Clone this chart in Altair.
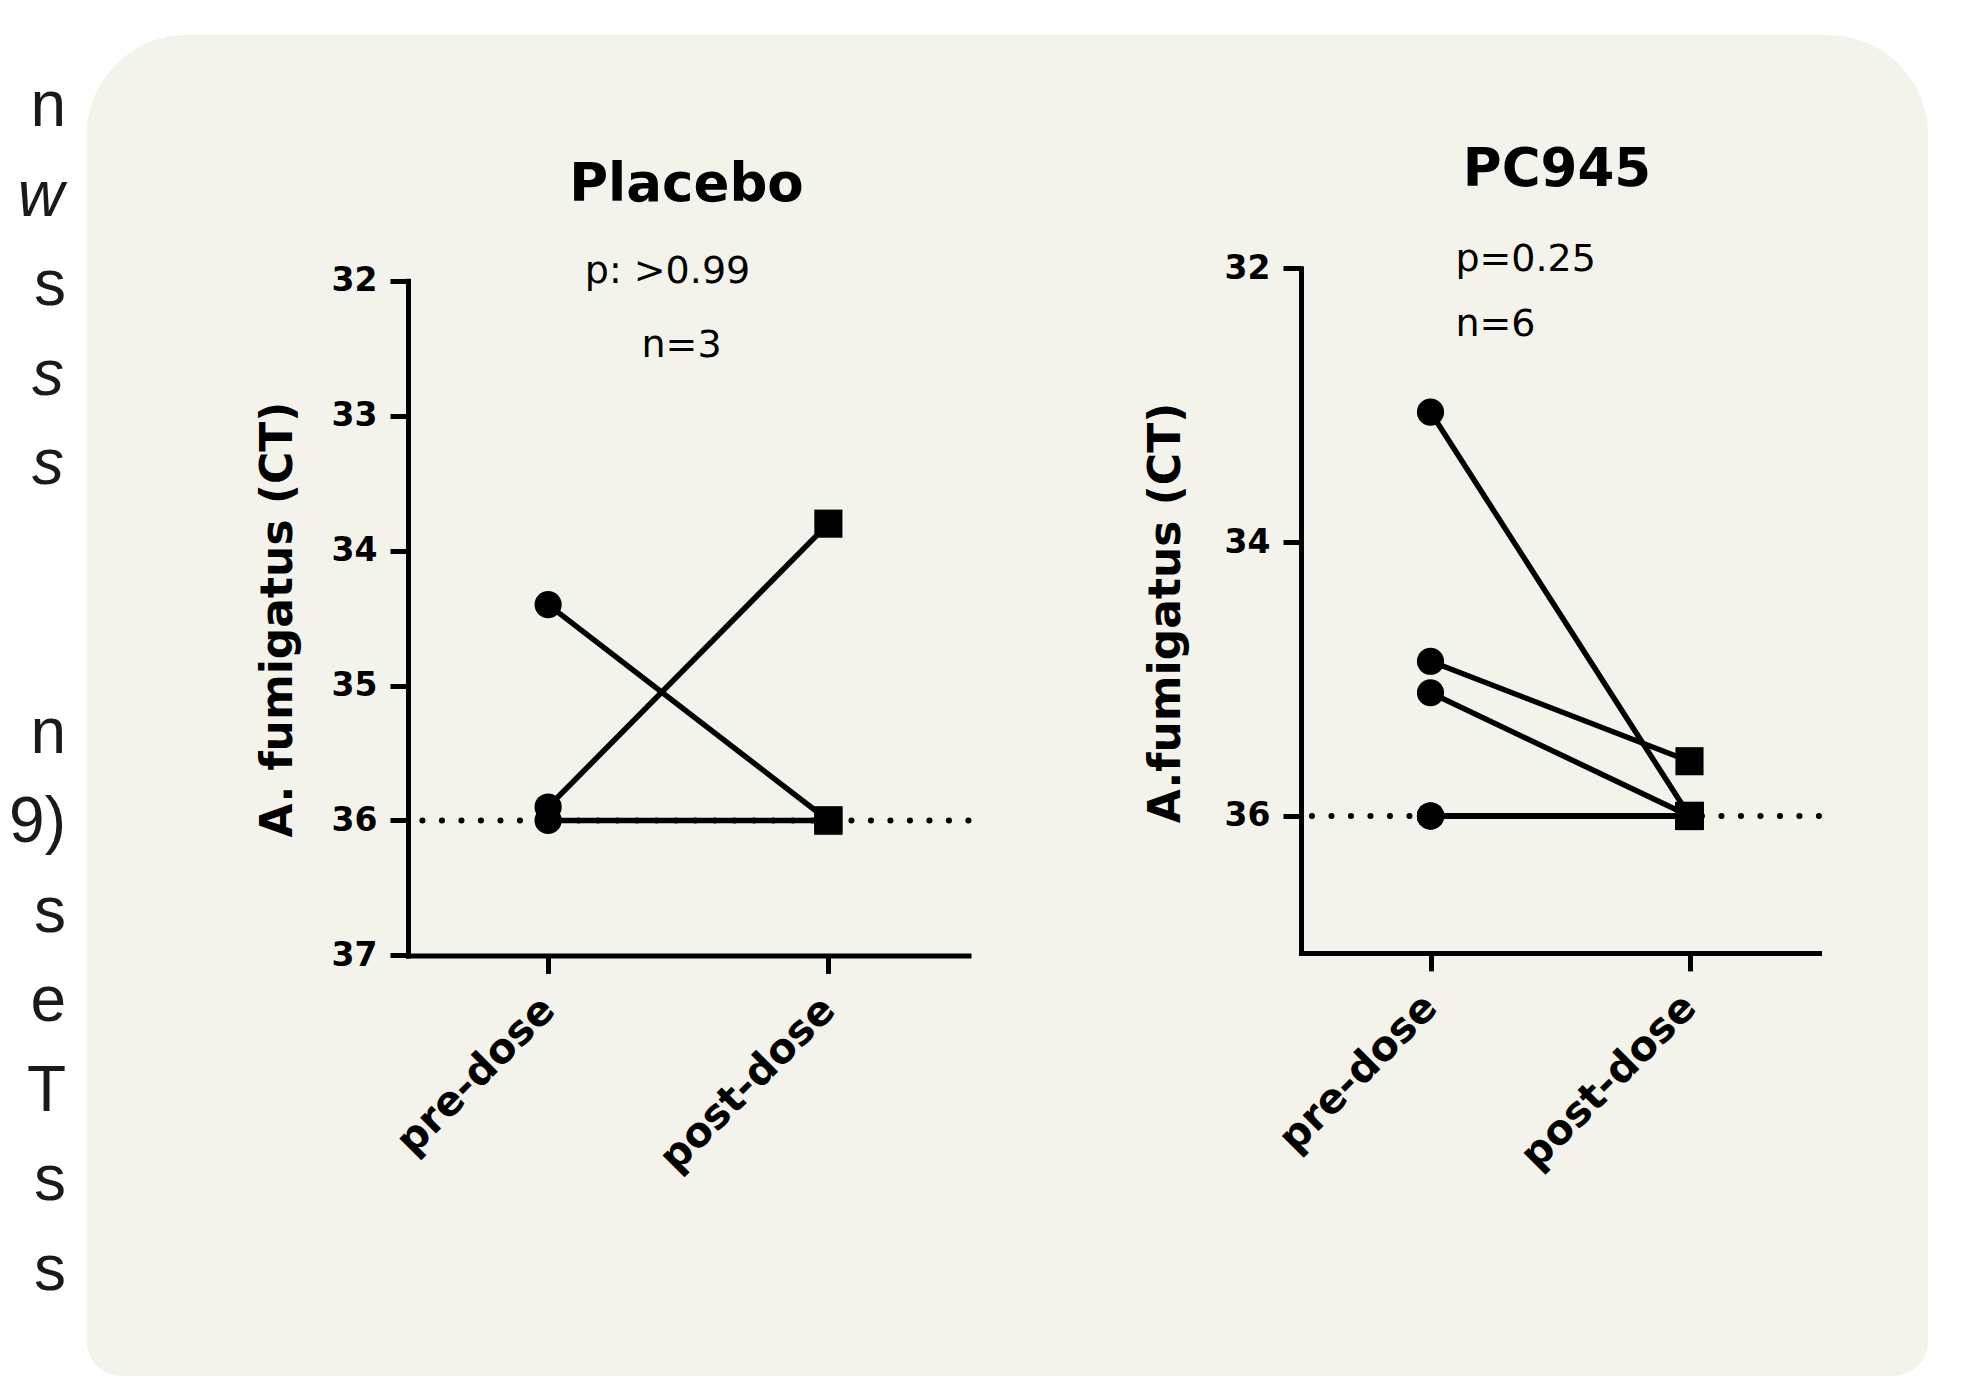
import altair as alt
import pandas as pd

# ---------------- data ----------------
times = ["pre-dose", "post-dose"]

placebo_subject = ["P1", "P2", "P3"]
placebo_pre = [34.4, 35.9, 36.0]
placebo_post = [36.0, 33.8, 36.0]

pc945_subject = ["C1", "C2", "C3", "C4", "C5", "C6"]
pc945_pre = [33.05, 34.87, 35.1, 36.0, 36.0, 36.0]
pc945_post = [36.0, 35.6, 36.0, 36.0, 36.0, 36.0]

lod_value = [36.0]
y_domain = [32, 37]
placebo_yticks = [32, 33, 34, 35, 36, 37]
pc945_yticks = [32, 34, 36]

placebo_texts = ["Placebo", "p: >0.99", "n=3"]
pc945_texts = ["PC945", "p=0.25", "n=6"]

# end-of-line fragments of the page text at the left edge
frag_text = ["n", "w", "s", "s", "s", "n", "9)", "s", "e", "T", "s", "s"]
frag_line = [0, 1, 2, 3, 4, 7, 8, 9, 10, 11, 12, 13]
frag_italic = [False, True, False, True, True, False, False, False, False, False, False, False]

FONT = "DejaVu Sans"
BODYFONT = "Liberation Sans"
BG = "#F3F3EB"


def long_df(subjects, pre, post):
    rows = []
    for s, a, b in zip(subjects, pre, post):
        rows.append({"subject": s, "time": times[0], "ct": a})
        rows.append({"subject": s, "time": times[1], "ct": b})
    return pd.DataFrame(rows)


def text_layer(txt, x, y, align, weight, size):
    return alt.Chart(pd.DataFrame({"t": [txt]})).mark_text(
        align=align, baseline="alphabetic", font=FONT, fontWeight=weight,
        fontSize=size, color="black"
    ).encode(text="t:N", x=alt.value(x), y=alt.value(y))


def panel(df, yrange, yticks, width, height, ytitle, tx, ty, texts):
    xenc = alt.X(
        "time:N", sort=times,
        scale=alt.Scale(type="point", padding=0.5, domain=times),
        axis=alt.Axis(
            title=None, labelAngle=315, labelAlign="right", labelBaseline="middle",
            labelFont=FONT, labelFontWeight="bold", labelFontSize=41,
            labelColor="black", labelPadding=30, labelOverlap=False, labelLimit=0,
            tickSize=18, tickWidth=5, tickColor="black",
            domainWidth=5, domainColor="black", domainCap="square", grid=False,
        ),
    )
    yenc = alt.Y(
        "ct:Q",
        scale=alt.Scale(domain=y_domain, range=yrange, nice=False, zero=False),
        axis=alt.Axis(
            values=yticks, format="d", title=ytitle, titleX=tx, titleY=ty,
            titleAngle=270, titleAlign="center", titleBaseline="middle",
            titleFont=FONT, titleFontWeight="bold", titleFontSize=44,
            titleColor="black", titleLimit=0,
            labelFont=FONT, labelFontWeight="bold", labelFontSize=33,
            labelColor="black", labelPadding=13, labelOverlap=False,
            tickSize=18, tickWidth=5, tickColor="black",
            domainWidth=5, domainColor="black", domainCap="square", grid=False,
        ),
    )
    rule = alt.Chart(pd.DataFrame({"ct": lod_value})).mark_rule(
        color="black", strokeWidth=6, strokeDash=[0.1, 19.4], strokeCap="round"
    ).encode(y=yenc)
    base = alt.Chart(df)
    lines = base.mark_line(color="black", strokeWidth=5.5).encode(
        x=xenc, y=yenc, detail="subject:N"
    )
    pts = base.mark_point(filled=True, opacity=1, color="black").encode(
        x=xenc, y=yenc,
        shape=alt.Shape("time:N", scale=alt.Scale(domain=times, range=["circle", "square"]), legend=None),
        size=alt.Size("time:N", scale=alt.Scale(domain=times, range=[740, 790]), legend=None),
    )
    txt_layers = [text_layer(*t) for t in texts]
    return alt.layer(rule, lines, pts, *txt_layers).properties(width=width, height=height)


# ---------------- left text fragments + page frame + rounded panel ----------------
frag_df = pd.DataFrame({"t": frag_text, "line": frag_line, "italic": frag_italic})
yrow = alt.Y("line:Q", scale=alt.Scale(domain=[0, 13], range=[118, 1281.5], nice=False, zero=False), axis=None)

frame = alt.Chart(pd.DataFrame({"k": [0]})).mark_rect(fill="white").encode(
    x=alt.value(0), x2=alt.value(1949), y=alt.value(0), y2=alt.value(1368)
)
bgrect = alt.Chart(pd.DataFrame({"k": [0]})).mark_rect(
    fill=BG, cornerRadiusTopLeft=100, cornerRadiusTopRight=100,
    cornerRadiusBottomLeft=35, cornerRadiusBottomRight=35
).encode(x=alt.value(78.7), x2=alt.value(1920), y=alt.value(27), y2=alt.value(1368))

frag_up = alt.Chart(frag_df).transform_filter("!datum.italic").mark_text(
    align="right", baseline="alphabetic", font=BODYFONT, fontSize=64, color="#1a1a1a"
).encode(x=alt.value(58), y=yrow, text="t:N")
frag_it = alt.Chart(frag_df).transform_filter("datum.italic").mark_text(
    align="right", baseline="alphabetic", font=BODYFONT, fontSize=64,
    fontStyle="italic", color="#1a1a1a"
).encode(x=alt.value(56), y=yrow, text="t:N")

side = alt.layer(frame, bgrect, frag_up, frag_it).properties(width=67.5, height=1368)

# ---------------- the two panels ----------------
placebo = panel(
    long_df(placebo_subject, placebo_pre, placebo_post),
    yrange=[272.8, 947.4], yticks=placebo_yticks, width=560.5, height=947.4,
    ytitle="A. fumigatus (CT)", tx=-130, ty=611,
    texts=[
        (placebo_texts[0], 278.5, 192.6, "center", "bold", 53),
        (placebo_texts[1], 259.5, 275.4, "center", "normal", 38),
        (placebo_texts[2], 273.5, 349.3, "center", "normal", 38),
    ],
)

pc945 = panel(
    long_df(pc945_subject, pc945_pre, pc945_post),
    yrange=[260.3, 944.9], yticks=pc945_yticks, width=518, height=944.9,
    ytitle="A.fumigatus (CT)", tx=-135, ty=604.5,
    texts=[
        (pc945_texts[0], 256, 177.6, "center", "bold", 53),
        (pc945_texts[1], 154.4, 262.8, "left", "normal", 38),
        (pc945_texts[2], 154.4, 328, "left", "normal", 38),
    ],
)

chart = alt.hconcat(side, placebo, pc945, spacing=332, bounds="flush").properties(
    padding=0, background="white"
).configure_view(stroke=None)

chart.save("out.html", embed_options={"renderer": "svg", "actions": False})
